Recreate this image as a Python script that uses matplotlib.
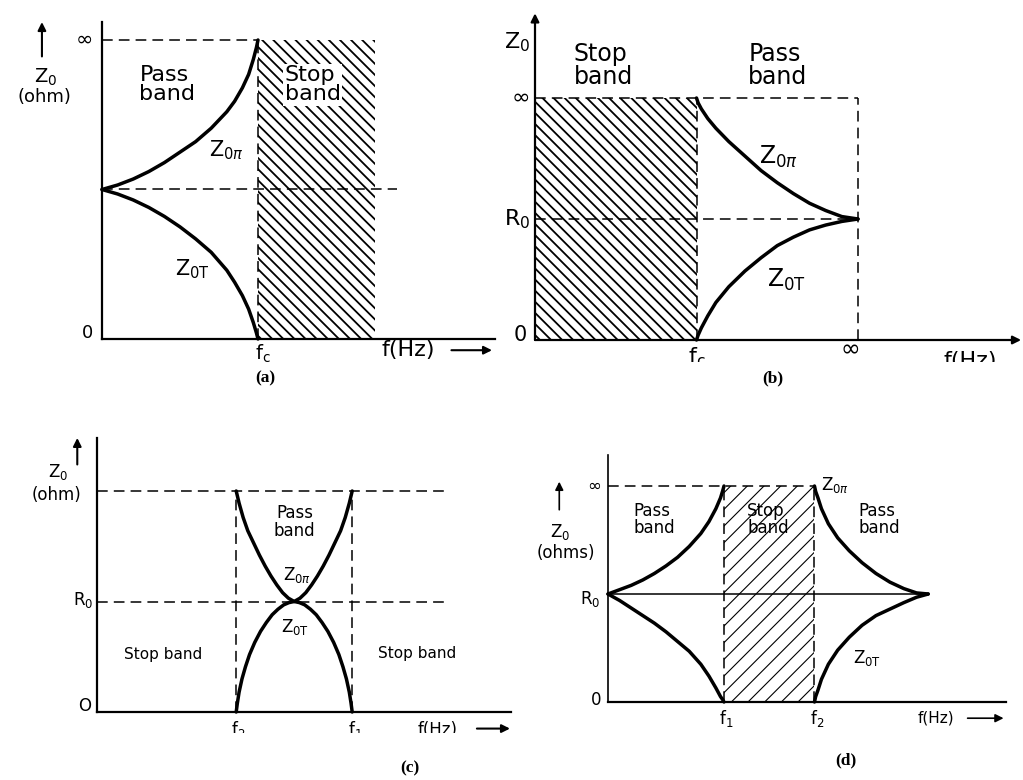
import matplotlib

matplotlib.use("Agg")
import matplotlib.pyplot as plt
from matplotlib.patches import Rectangle

W, H = 1023, 780

# impedance levels shared by all panels: 0, R0 and "infinity"
Z_ZERO, Z_R0, Z_INF = 0.0, 1.0, 2.0

# (a) low-pass: f in units of fc
A_FC = 1.0
A_STOP_END = 1.75
A_F = [0.0, 0.1, 0.2, 0.3, 0.4, 0.5, 0.6, 0.7, 0.8, 0.85, 0.9, 0.94, 0.97, 0.99, 1.0]
A_PI_Z = [1.0, 1.03, 1.07, 1.12, 1.18, 1.25, 1.32, 1.41, 1.52, 1.59, 1.68, 1.77, 1.87, 1.95, 2.0]
A_T_Z = [1.0, 0.97, 0.93, 0.88, 0.82, 0.75, 0.67, 0.58, 0.46, 0.38, 0.29, 0.20, 0.11, 0.04, 0.0]

# (b) high-pass
B_FC = 1.0
B_INF_F = 2.0
B_F = [1.0, 1.01, 1.03, 1.07, 1.12, 1.2, 1.3, 1.4, 1.5, 1.6, 1.7, 1.8, 1.9, 2.0]
B_PI_Z = [2.0, 1.96, 1.91, 1.83, 1.75, 1.64, 1.52, 1.40, 1.30, 1.21, 1.13, 1.07, 1.02, 1.0]
B_T_Z = [0.0, 0.04, 0.10, 0.20, 0.31, 0.44, 0.57, 0.68, 0.78, 0.85, 0.91, 0.95, 0.98, 1.0]

# (c) band-pass
C_F2, C_F1 = 2.40, 4.40
C_PI_F = [2.40, 2.45, 2.52, 2.60, 2.70, 2.80, 2.90, 3.00, 3.10, 3.20, 3.30, 3.40,
          3.50, 3.60, 3.70, 3.80, 3.90, 4.00, 4.10, 4.20, 4.28, 4.35, 4.40]
C_PI_Z = [2.0, 1.89, 1.76, 1.64, 1.53, 1.42, 1.32, 1.23, 1.15, 1.08, 1.03, 1.0,
          1.03, 1.08, 1.15, 1.23, 1.32, 1.42, 1.53, 1.64, 1.76, 1.89, 2.0]
C_T_F = [2.40, 2.42, 2.45, 2.50, 2.56, 2.63, 2.72, 2.82, 2.92, 3.02, 3.12, 3.22, 3.31, 3.40,
         3.49, 3.58, 3.68, 3.78, 3.88, 3.98, 4.08, 4.17, 4.24, 4.30, 4.35, 4.38, 4.40]
C_T_Z = [0.0, 0.08, 0.18, 0.30, 0.41, 0.52, 0.63, 0.73, 0.81, 0.88, 0.93, 0.97, 0.99, 1.0,
         0.99, 0.97, 0.93, 0.88, 0.81, 0.73, 0.63, 0.52, 0.41, 0.30, 0.18, 0.08, 0.0]

# (d) band-stop
D_F1, D_F2, D_END = 1.0, 1.78, 2.76
D_L_F = [0.0, 0.1, 0.2, 0.3, 0.4, 0.5, 0.6, 0.7, 0.8, 0.87, 0.93, 0.97, 0.99, 1.0]
D_L_PI_Z = [1.0, 1.04, 1.08, 1.13, 1.19, 1.26, 1.34, 1.44, 1.56, 1.67, 1.79, 1.89, 1.96, 2.0]
D_L_T_Z = [1.0, 0.94, 0.87, 0.80, 0.73, 0.65, 0.56, 0.47, 0.35, 0.24, 0.13, 0.05, 0.02, 0.0]
D_R_F = [1.78, 1.79, 1.81, 1.84, 1.90, 1.98, 2.08, 2.19, 2.31, 2.43, 2.55, 2.66, 2.76]
D_R_PI_Z = [2.0, 1.95, 1.89, 1.79, 1.65, 1.52, 1.40, 1.29, 1.19, 1.11, 1.05, 1.01, 1.0]
D_R_T_Z = [0.0, 0.05, 0.11, 0.21, 0.35, 0.48, 0.60, 0.71, 0.80, 0.86, 0.92, 0.97, 1.0]

CAPTIONS = ["(a)", "(b)", "(c)", "(d)"]

CURVE = dict(color="k", lw=2.5, solid_capstyle="round", solid_joinstyle="round")
AXIS = dict(color="k", lw=1.6, clip_on=False)
DASH = dict(color="k", lw=1.1, linestyle=(0, (7, 4)), clip_on=False)
ARROW = dict(arrowstyle="-|>", color="k", lw=1.5, mutation_scale=12, shrinkA=0, shrinkB=0)

fig = plt.figure(figsize=(W / 100, H / 100), dpi=100)


def make_panel(origin, scale, xlim, ylim):
    """Axes whose data units map onto a pixel origin and scale of the page."""
    x0, y0 = origin
    sx, sy = scale
    left, right = x0 + xlim[0] * sx, x0 + xlim[1] * sx
    bottom, top = y0 - ylim[0] * sy, y0 - ylim[1] * sy
    ax = fig.add_axes([left / W, 1 - bottom / H, (right - left) / W, (bottom - top) / H])
    ax.set_xlim(*xlim)
    ax.set_ylim(*ylim)
    ax.axis("off")
    return ax


def hatch(ax, x0, x1, pattern, lw):
    plt.rcParams["hatch.linewidth"] = lw
    r = Rectangle((x0, Z_ZERO), x1 - x0, Z_INF - Z_ZERO, facecolor="none",
                  edgecolor="k", hatch=pattern, linewidth=0, zorder=0)
    if hasattr(r, "set_hatch_linewidth"):
        r.set_hatch_linewidth(lw)
    ax.add_patch(r)


def arrow(ax, start, end, **kw):
    ax.annotate("", xy=end, xytext=start, arrowprops={**ARROW, **kw}, annotation_clip=False)


def txt(ax, x, y, s, size, ha="center", clip=False, **kw):
    ax.text(x, y, s, fontsize=size, ha=ha, va="center", clip_on=clip,
            linespacing=0.95, **kw)


# ---------------- (a) ----------------
ax = make_panel((102, 339), (156, 149.5), (-0.6, 2.6), (-0.25, 2.2))
hatch(ax, A_FC, A_STOP_END, "\\\\\\", 1.3)
ax.plot([0, 2.52], [Z_ZERO, Z_ZERO], **AXIS)
ax.plot([0, 0], [Z_ZERO, 2.12], **AXIS)
ax.plot([0, A_FC], [Z_INF, Z_INF], **DASH)
ax.plot([0, 1.89], [Z_R0, Z_R0], **DASH)
ax.plot([A_FC, A_FC], [Z_ZERO, Z_INF], **DASH)
ax.plot(A_F, A_PI_Z, **CURVE)
ax.plot(A_F, A_T_Z, **CURVE)
arrow(ax, (-0.385, 1.89), (-0.385, 2.12))
txt(ax, -0.11, Z_INF, "∞", 15)
txt(ax, -0.09, 0.04, "0", 13)
txt(ax, -0.36, 1.75, r"Z$_0$", 14)
txt(ax, -0.37, 1.62, "(ohm)", 13)
txt(ax, 0.24, 1.70, "Pass\nband", 16, ha="left")
txt(ax, 1.17, 1.70, "Stop\nband", 16, ha="left",
    bbox=dict(facecolor="white", edgecolor="none", pad=1))
txt(ax, 0.80, 1.26, r"Z$_{0\pi}$", 15)
txt(ax, 0.58, 0.47, r"Z$_{0\mathrm{T}}$", 15)
txt(ax, 1.03, -0.10, r"f$_\mathrm{c}$", 14)
txt(ax, 1.79, -0.075, "f(Hz)", 16, ha="left")
arrow(ax, (2.24, -0.075), (2.50, -0.075))

# ---------------- (b) ----------------
ax = make_panel((535, 340), (161.5, 121), (-0.2, 3.05), (-0.18, 2.75))
hatch(ax, 0, B_FC, "\\\\\\", 1.3)
arrow(ax, (0, Z_ZERO), (3.01, Z_ZERO), lw=1.6)
arrow(ax, (0, Z_ZERO), (0, 2.70), lw=1.6)
ax.plot([0, B_INF_F], [Z_INF, Z_INF], **DASH)
ax.plot([0, B_INF_F], [Z_R0, Z_R0], **DASH)
ax.plot([B_FC, B_FC], [Z_ZERO, Z_INF], **DASH)
ax.plot([B_INF_F, B_INF_F], [Z_ZERO, Z_INF], **DASH)
ax.plot(B_F, B_PI_Z, **CURVE)
ax.plot(B_F, B_T_Z, **CURVE)
txt(ax, -0.03, 2.46, r"Z$_0$", 16, ha="right")
txt(ax, -0.03, Z_INF, "∞", 16, ha="right")
txt(ax, -0.03, Z_R0, r"R$_0$", 16, ha="right")
txt(ax, -0.05, 0.04, "0", 15, ha="right")
txt(ax, 0.24, 2.27, "Stop\nband", 17, ha="left")
txt(ax, 1.32, 2.27, "Pass\nband", 17, ha="left")
txt(ax, 1.51, 1.51, r"Z$_{0\pi}$", 17)
txt(ax, 1.56, 0.50, r"Z$_{0\mathrm{T}}$", 17)
txt(ax, 1.0, -0.14, r"f$_\mathrm{c}$", 16, clip=True)
txt(ax, 1.95, -0.08, "∞", 17)
txt(ax, 2.53, -0.17, "f(Hz)", 16, ha="left", clip=True)

# ---------------- (c) ----------------
ax = make_panel((97, 712), (58, 110.5), (-1.5, 7.14), (-0.19, 2.55))
ax.plot([0, 7.14], [Z_ZERO, Z_ZERO], **AXIS)
ax.plot([0, 0], [Z_ZERO, 2.48], **AXIS)
ax.plot([0, 6.05], [Z_INF, Z_INF], **DASH)
ax.plot([0, 6.05], [Z_R0, Z_R0], **DASH)
ax.plot([C_F2, C_F2], [Z_ZERO, Z_INF], **DASH)
ax.plot([C_F1, C_F1], [Z_ZERO, Z_INF], **DASH)
ax.plot(C_PI_F, C_PI_Z, **CURVE)
ax.plot(C_T_F, C_T_Z, **CURVE)
arrow(ax, (-0.34, 2.24), (-0.34, 2.48))
txt(ax, -0.67, 2.17, r"Z$_0$", 12)
txt(ax, -0.69, 1.96, "(ohm)", 12)
txt(ax, -0.24, 1.01, r"R$_0$", 12)
txt(ax, -0.21, 0.05, "O", 12)
txt(ax, 3.41, 1.72, "Pass\nband", 12)
txt(ax, 3.45, 1.24, r"Z$_{0\pi}$", 12)
txt(ax, 3.41, 0.77, r"Z$_{0\mathrm{T}}$", 12)
txt(ax, 1.14, 0.52, "Stop band", 11)
txt(ax, 5.52, 0.53, "Stop band", 11)
txt(ax, 2.43, -0.16, r"f$_2$", 12, clip=True)
txt(ax, 4.45, -0.16, r"f$_1$", 12, clip=True)
txt(ax, 5.53, -0.16, "f(Hz)", 12, ha="left", clip=True)
arrow(ax, (6.55, -0.15), (7.12, -0.15))

# ---------------- (d) ----------------
ax = make_panel((608, 702), (116, 108), (-0.6, 3.5), (-0.3, 2.35))
hatch(ax, D_F1, D_F2, "//", 0.8)
ax.plot([0, 3.43], [Z_ZERO, Z_ZERO], **AXIS)
ax.plot([0, 0], [Z_ZERO, 2.29], color="k", lw=1.2)
ax.plot([0, D_F2], [Z_INF, Z_INF], **DASH)
ax.plot([0, D_END], [Z_R0, Z_R0], color="k", lw=1.1)
ax.plot([D_F1, D_F1], [Z_ZERO, Z_INF], **DASH)
ax.plot([D_F2, D_F2], [Z_ZERO, Z_INF], **DASH)
ax.plot(D_L_F, D_L_PI_Z, **CURVE)
ax.plot(D_L_F, D_L_T_Z, **CURVE)
ax.plot(D_R_F, D_R_PI_Z, **CURVE)
ax.plot(D_R_F, D_R_T_Z, **CURVE)
arrow(ax, (-0.42, 1.78), (-0.42, 2.04), lw=1.2)
txt(ax, -0.12, Z_INF, "∞", 12)
txt(ax, -0.15, 0.95, r"R$_0$", 12)
txt(ax, -0.10, 0.02, "0", 12)
txt(ax, -0.41, 1.57, r"Z$_0$", 12)
txt(ax, -0.36, 1.38, "(ohms)", 12)
txt(ax, 0.22, 1.69, "Pass\nband", 12, ha="left")
txt(ax, 1.20, 1.69, "Stop\nband", 12, ha="left")
txt(ax, 2.16, 1.69, "Pass\nband", 12, ha="left")
txt(ax, 1.84, 2.01, r"Z$_{0\pi}$", 12, ha="left")
txt(ax, 2.11, 0.41, r"Z$_{0\mathrm{T}}$", 12, ha="left")
txt(ax, 1.02, -0.15, r"f$_1$", 12)
txt(ax, 1.80, -0.15, r"f$_2$", 12)
txt(ax, 2.67, -0.15, "f(Hz)", 11, ha="left")
arrow(ax, (3.10, -0.15), (3.41, -0.15), lw=1.2)

# ---------------- captions ----------------
for label, (px, py) in zip(CAPTIONS, [(265, 378), (773, 378), (410, 768), (846, 760)]):
    fig.text(px / W, 1 - py / H, label, ha="center", va="center", fontsize=12.5,
             fontweight="bold", family="Liberation Serif")

fig.savefig("out.png", dpi=100)
